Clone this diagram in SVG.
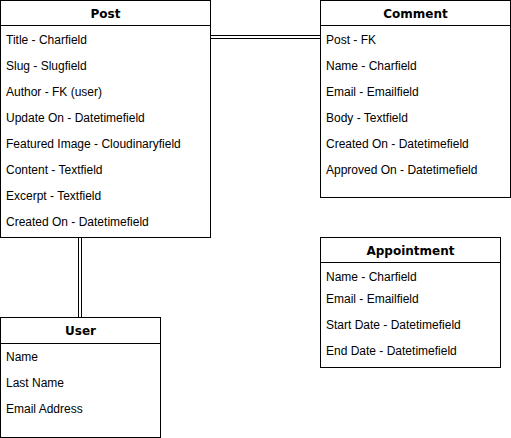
<svg xmlns="http://www.w3.org/2000/svg" width="511" height="438" viewBox="0 0 511 438">
<style>
.box{fill:#fff;stroke:#000;stroke-width:1}
.sep{stroke:#000;stroke-width:1}
.t{font-family:"DejaVu Sans",Verdana,sans-serif;font-weight:bold;font-size:12px;text-anchor:middle;fill:#000}
.f{font-family:"Liberation Sans",Arial,sans-serif;font-size:12px;fill:#000}
.c{stroke:#000;stroke-width:1;fill:none}
</style>
<rect width="511" height="438" fill="#fff"/>
<g id="connectors">
<line class="c" x1="210.5" y1="35.5" x2="320.5" y2="35.5"/>
<line class="c" x1="210.5" y1="38.5" x2="320.5" y2="38.5"/>
<line class="c" x1="78.5" y1="237.5" x2="78.5" y2="317.5"/>
<line class="c" x1="81.5" y1="237.5" x2="81.5" y2="317.5"/>
</g>
<g id="post">
<rect class="box" x="0.5" y="0.5" width="210" height="237"/>
<line class="sep" x1="0.5" y1="25.5" x2="210.5" y2="25.5"/>
<text class="t" x="105.5" y="18">Post</text>
<text class="f" x="6" y="44">Title - Charfield</text>
<text class="f" x="6" y="70">Slug - Slugfield</text>
<text class="f" x="6" y="96">Author - FK (user)</text>
<text class="f" x="6" y="122">Update On - Datetimefield</text>
<text class="f" x="6" y="148">Featured Image - Cloudinaryfield</text>
<text class="f" x="6" y="174">Content - Textfield</text>
<text class="f" x="6" y="200">Excerpt - Textfield</text>
<text class="f" x="6" y="226">Created On - Datetimefield</text>
</g>
<g id="comment">
<rect class="box" x="320.5" y="0.5" width="190" height="197"/>
<line class="sep" x1="320.5" y1="25.5" x2="510.5" y2="25.5"/>
<text class="t" x="415.5" y="18">Comment</text>
<text class="f" x="326" y="44">Post - FK</text>
<text class="f" x="326" y="70">Name - Charfield</text>
<text class="f" x="326" y="96">Email - Emailfield</text>
<text class="f" x="326" y="122">Body - Textfield</text>
<text class="f" x="326" y="148">Created On - Datetimefield</text>
<text class="f" x="326" y="174">Approved On - Datetimefield</text>
</g>
<g id="user">
<rect class="box" x="0.5" y="317.5" width="160" height="120"/>
<line class="sep" x1="0.5" y1="343.5" x2="160.5" y2="343.5"/>
<text class="t" x="80.5" y="335">User</text>
<text class="f" x="6" y="361">Name</text>
<text class="f" x="6" y="387">Last Name</text>
<text class="f" x="6" y="413">Email Address</text>
</g>
<g id="appointment">
<rect class="box" x="320.5" y="237.5" width="180" height="130"/>
<line class="sep" x1="320.5" y1="262.5" x2="500.5" y2="262.5"/>
<text class="t" x="410.5" y="255">Appointment</text>
<text class="f" x="326" y="281">Name - Charfield</text>
<text class="f" x="326" y="303">Email - Emailfield</text>
<text class="f" x="326" y="329">Start Date - Datetimefield</text>
<text class="f" x="326" y="355">End Date - Datetimefield</text>
</g>
</svg>
